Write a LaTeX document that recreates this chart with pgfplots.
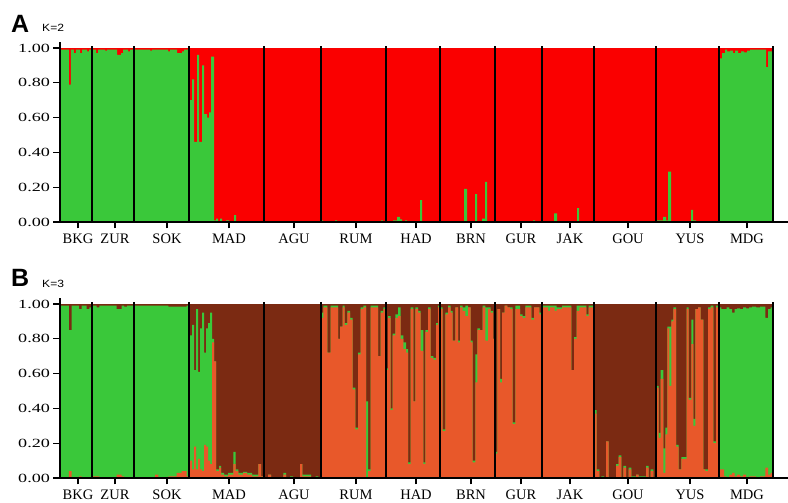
\documentclass[border=0pt]{standalone}
\usepackage{fontspec}
\setmainfont{Liberation Serif}
\newfontfamily\sansf{Liberation Sans}
\usepackage{graphicx}
\usepackage{pgfplots}
\pgfplotsset{compat=1.18}
\usepackage{pgfplotstable}
\definecolor{cgreen}{RGB}{58,200,58}
\definecolor{cred}{RGB}{250,0,0}
\definecolor{corange}{RGB}{232,88,42}
\definecolor{cbrown}{RGB}{123,42,18}

% K=2: cumulative green share (red above)
\pgfplotstableread{
x g
60 0.99
69 0.79
71 0.99
74 0.97
76 0.99
80 0.97
82 0.99
87 0.98
89 0.99
92 0.99
96 0.97
98 0.99
105 0.985
107 0.99
117 0.96
121 0.97
123 0.99
128 0.98
130 0.99
134 0.99
150 0.985
152 0.99
168 0.98
170 0.99
177 0.97
182 0.98
184 0.99
189 0.70
192 0.82
194 0.46
197 0.96
199 0.46
202 0.90
204 0.62
207 0.60
209 0.63
211 0.95
214 0.01
216 0.02
218 0.0
220 0.02
222 0.005
226 0.01
229 0.005
234 0.04
236 0.0
263 0.005
300 0.0
321 0.01
323 0.0
335 0.01
337 0.0
358 0.003
381 0.01
383 0.0
393 0.01
397 0.03
400 0.015
402 0.0
405 0.01
407 0.0
420 0.125
422 0.0
440 0.0
464 0.19
467 0.0
475 0.16
477 0.0
482 0.02
485 0.23
487 0.0
533 0.01
535 0.0
554 0.05
557 0.0
577 0.08
579 0.0
656 0.01
663 0.03
666 0.01
668 0.29
671 0.0
691 0.07
693 0.01
696 0.0
719 0.94
722 0.97
725 0.99
727 0.98
730 0.985
733 0.97
735 0.985
738 0.97
741 0.98
744 0.975
747 0.985
750 0.99
760 0.99
766 0.89
768 0.98
773 0.98
}\tabA

% K=3: o = orange share, og = orange + green (brown above)
\pgfplotstableread{
x o og
60 0.0 0.99
69 0.04 0.85
71.7 0.0 0.99
79 0.01 0.97
81.7 0.0 0.99
86.7 0.0 0.97
89.3 0.0 0.98
91.7 0.01 0.99
96.7 0.01 0.98
99.3 0.005 0.99
116.7 0.02 0.97
121.7 0.01 0.99
124 0.0 0.985
127 0.005 0.99
134.3 0.0 0.99
155 0.02 0.99
158.3 0.0 0.99
168.3 0.01 0.985
176.7 0.03 0.985
181.7 0.04 0.985
186.7 0.01 0.99
189 0.10 0.82
192 0.05 0.88
194 0.18 0.62
196 0.05 0.97
198 0.11 0.61
200 0.05 0.86
202 0.04 0.95
204 0.19 0.72
206 0.18 0.86
208 0.10 0.89
210 0.08 0.95
212 0.78 0.80
214 0.67 0.67
216 0.04 0.05
219 0.06 0.07
221 0.02 0.03
224 0.01 0.02
228 0.02 0.03
233.3 0.08 0.15
235.7 0.04 0.05
238.3 0.02 0.03
243 0.03 0.035
247 0.02 0.03
252 0.01 0.02
258.3 0.08 0.08
261 0.01 0.01
263.7 0.0 0.005
268 0.02 0.02
271 0.0 0.005
283.3 0.02 0.03
286 0.0 0.005
290 0.0 0.01
293 0.0 0.005
300 0.08 0.08
302.3 0.01 0.02
311 0.0 0.005
315.7 0.0 0.01
318.3 0.0 0.0
321.3 0.92 0.95
323.3 0.98 0.99
327.3 0.72 0.72
330.7 0.98 0.99
338 0.80 0.80
340 0.87 0.87
342.7 0.98 0.99
344.7 0.88 0.89
347.3 0.95 0.96
350 0.91 0.92
352.7 0.51 0.52
355.3 0.28 0.29
358 0.71 0.72
360.7 0.97 0.98
363.3 0.98 0.99
366 0.0 0.44
368 0.04 0.05
370.7 0.98 0.99
378 0.70 0.70
380.7 0.95 0.96
383.3 0.97 0.98
385.3 0.62 0.63
388 0.92 0.93
390.7 0.39 0.40
392.7 0.82 0.83
395.3 0.92 0.94
398 0.93 0.98
400.7 0.80 0.82
403.3 0.74 0.78
406 0.72 0.74
408 0.08 0.09
410.7 0.97 0.98
413.3 0.44 0.44
415.3 0.97 0.98
418 0.95 0.96
420.7 0.73 0.85
423.3 0.08 0.09
425.3 0.84 0.85
428 0.97 0.98
430.7 0.69 0.70
433.3 0.68 0.69
436 0.88 0.89
438 0.98 0.99
440 0.97 0.98
442.7 0.27 0.28
445.3 0.94 0.95
448 0.98 0.99
450.7 0.95 0.96
452.7 0.79 0.79
455.3 0.98 0.98
458 0.78 0.79
460 0.98 0.99
462.7 0.96 0.98
465.3 0.93 0.99
468 0.98 0.98
470.7 0.78 0.79
472.7 0.09 0.10
475.3 0.55 0.71
477.3 0.85 0.86
480 0.85 0.85
482.7 0.98 0.99
485.3 0.79 0.98
488 0.97 0.98
490.7 0.95 0.96
493 0.80 0.80
494.7 0.14 0.15
497.3 0.97 0.97
500 0.55 0.57
502 0.95 0.95
504.7 0.99 0.99
507.3 0.98 0.98
510 0.97 0.98
512.7 0.31 0.32
515.3 0.97 0.99
520 0.93 0.94
522.7 0.92 0.93
525.3 0.98 0.99
531.3 0.91 0.92
534 0.98 0.98
539.3 0.94 0.95
542 0.98 0.99
548 0.96 0.99
550 0.98 0.99
554.7 0.96 0.99
556.7 0.97 0.98
562 0.98 0.99
571.3 0.62 0.62
574 0.80 0.81
576.7 0.96 0.99
579.3 0.98 0.99
586.3 0.93 0.94
588.7 0.98 0.99
593.7 0.37 0.39
596.7 0.04 0.05
599.3 0.0 0.0
601.3 0.0 0.01
604 0.0 0.0
606 0.21 0.21
608.7 0.0 0.0
616 0.07 0.08
618.7 0.12 0.13
621.3 0.0 0.0
623.3 0.06 0.07
626 0.0 0.005
628.7 0.05 0.06
631.3 0.0 0.01
636 0.02 0.02
638.7 0.0 0.01
646 0.06 0.07
648.7 0.0 0.0
650.7 0.04 0.05
653.3 0.0 0.0
656 0.52 0.53
658.7 0.23 0.26
660.7 0.57 0.62
663.3 0.03 0.17
665.3 0.25 0.29
667.3 0.86 0.87
669.3 0.53 0.87
671.3 0.90 0.91
673.3 0.97 0.98
676 0.18 0.19
678.7 0.05 0.05
681.3 0.11 0.12
686.7 0.97 0.98
688.7 0.45 0.46
691.3 0.77 0.91
693.3 0.30 0.34
695.3 0.97 0.97
698 0.98 0.98
700.7 0.91 0.91
703.3 0.05 0.05
705.3 0.04 0.05
708 0.97 0.98
710.7 0.98 0.99
713.3 0.20 0.21
716 0.98 0.99
718.7 0.05 0.98
721.3 0.05 0.97
724 0.01 0.97
726.7 0.0 0.98
729.3 0.02 0.97
732 0.03 0.95
734.7 0.01 0.97
737 0.02 0.975
740 0.01 0.97
743 0.02 0.98
746 0.0 0.975
749 0.01 0.98
752 0.01 0.985
756 0.0 0.98
760 0.01 0.985
765.3 0.06 0.92
768 0.02 0.97
770.5 0.03 0.98
772.7 0.03 0.98
}\tabB

\pgfplotstableread{
x y
92 1.01
134.3 1.01
189 1.01
263.7 1.01
321.3 1.01
385.5 1.01
440 1.01
494.7 1.01
542 1.01
593.7 1.01
656 1.01
718.7 1.01
772.7 1.01
}\tabSep

\newcommand\yl[1]{\scalebox{1.45}[1]{#1}}

\pgfplotsset{
  struct/.style={
    scale only axis, width=728pt, height=180pt,
    xmin=60, xmax=788, ymin=0, ymax=1.0345,
    axis x line=bottom, axis y line=left,
    axis line style={-, line width=1.6pt},
    axis on top,
    xtick={78,115,167,229,294,356,416,471,521,570,628,690,747},
    xticklabels={BKG,ZUR,SOK,MAD,AGU,RUM,HAD,BRN,GUR,JAK,GOU,YUS,MDG},
    ytick={0,0.2,0.4,0.6,0.8,1},
    yticklabels={\yl{0.00},\yl{0.20},\yl{0.40},\yl{0.60},\yl{0.80},\yl{1.00}},
    tick align=outside, major tick length=6.5pt,
    tick style={black, line width=1.3pt},
    x tick label style={font=\fontsize{14.5}{14.5}\selectfont, inner sep=2pt, yshift=-3.5pt},
    y tick label style={font=\fontsize{12.5}{12.5}\selectfont},
  }
}

\begin{document}
\begin{tikzpicture}
\useasboundingbox (0pt,0pt) rectangle (788pt,503pt);

\begin{axis}[struct, at={(60pt,281pt)}, anchor=south west]
  \addplot[fill=cred, draw=none] coordinates {(60,1) (772.7,1)} \closedcycle;
  \addplot[fill=cgreen, draw=none, const plot mark left] table[x=x, y=g] {\tabA} \closedcycle;
  \addplot[ycomb, black, line width=2pt, mark=none] table[x=x, y=y] {\tabSep};
\end{axis}

\begin{axis}[struct, at={(60pt,25pt)}, anchor=south west]
  \addplot[fill=cbrown, draw=none] coordinates {(60,1) (772.7,1)} \closedcycle;
  \addplot[fill=cgreen, draw=none, const plot mark left] table[x=x, y=og] {\tabB} \closedcycle;
  \addplot[fill=corange, draw=none, const plot mark left] table[x=x, y=o] {\tabB} \closedcycle;
  \addplot[ycomb, black, line width=2pt, mark=none] table[x=x, y=y] {\tabSep};
\end{axis}

\node[anchor=base west, inner sep=0, font=\sansf\bfseries\fontsize{25}{25}\selectfont] at (11pt,470pt) {A};
\node[anchor=base west, inner sep=0, font=\sansf\fontsize{10.5}{10.5}\selectfont] at (42pt,471pt) {\scalebox{1.15}[1]{K=2}};
\node[anchor=base west, inner sep=0, font=\sansf\bfseries\fontsize{25}{25}\selectfont] at (11pt,216pt) {B};
\node[anchor=base west, inner sep=0, font=\sansf\fontsize{10.5}{10.5}\selectfont] at (42pt,215pt) {\scalebox{1.15}[1]{K=3}};
\end{tikzpicture}
\end{document}
